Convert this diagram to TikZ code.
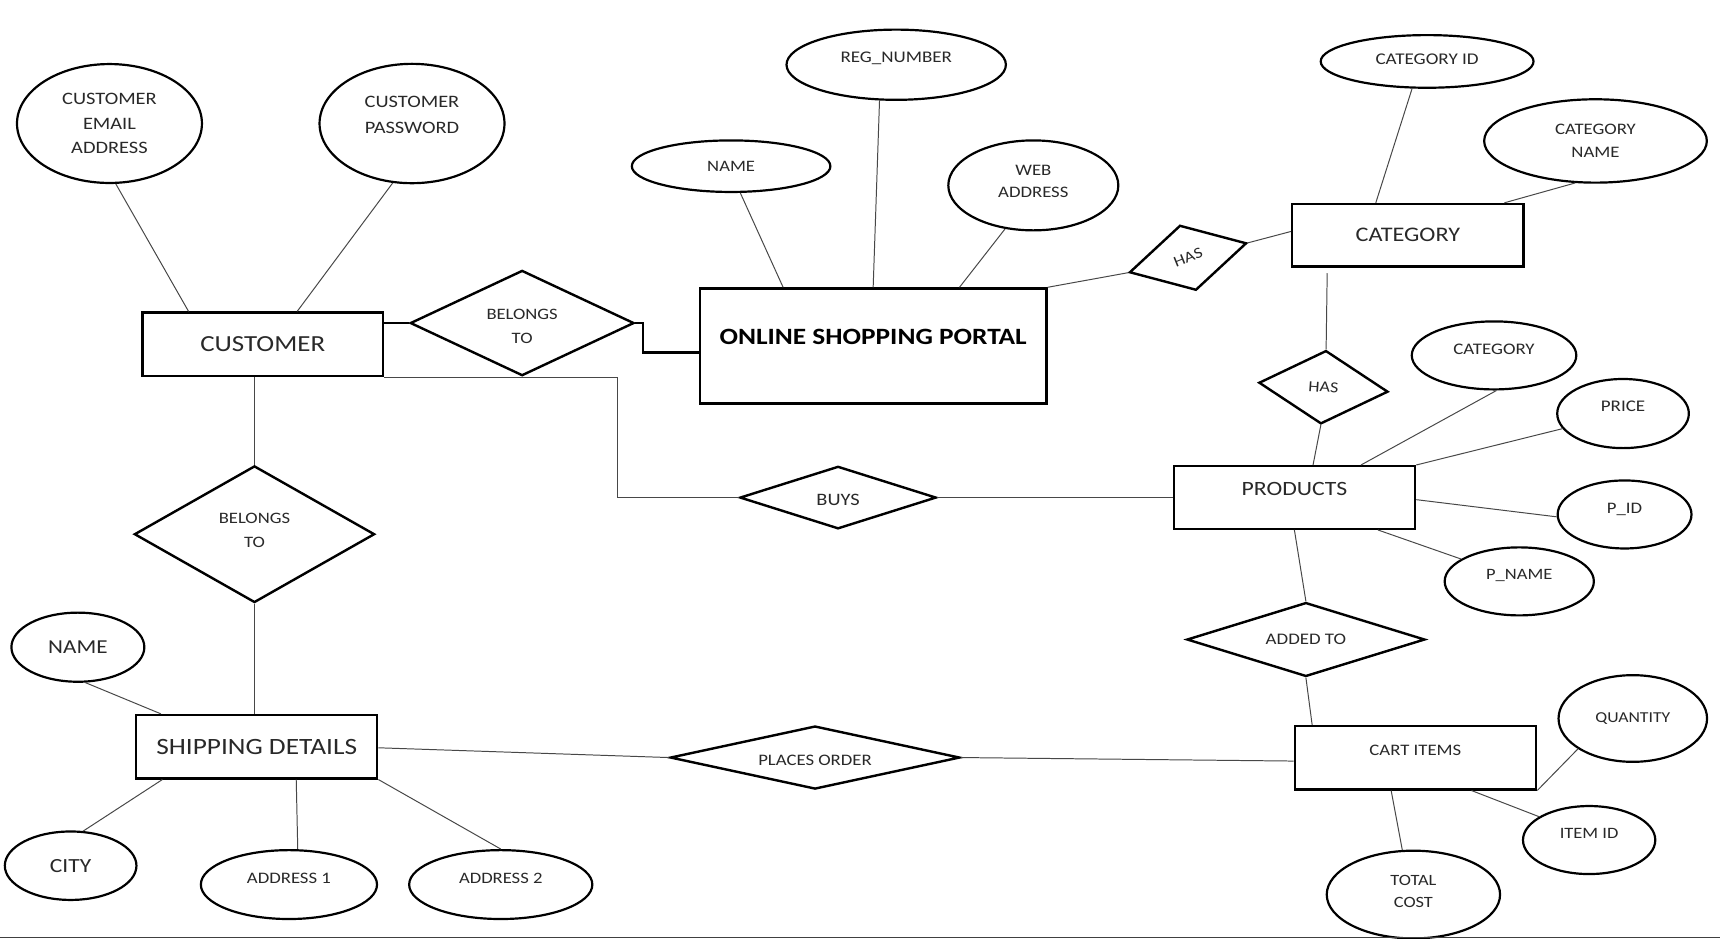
\documentclass[tikz,border=0pt]{standalone}
\usepackage{fontspec}
\setmainfont{Carlito}[FakeStretch=1.17]
\usetikzlibrary{shapes.geometric}
\begin{document}
\begin{tikzpicture}[x=1pt,y=-1pt,
  sz/.style 2 args={minimum width=#1pt,minimum height=#2pt},
  fs/.style 2 args={font=\fontsize{#1}{#2}\selectfont},
  lift/.style={text depth=#1pt},
  attr/.style={ellipse,draw=black,line width=2pt,inner sep=0pt,text=black!84,align=center},
  ent/.style={rectangle,draw=black,line width=2.2pt,inner sep=0pt,text=black!84,align=center},
  rel/.style={diamond,draw=black,line width=2.2pt,inner sep=0pt,text=black!84,align=center},
  conn/.style={draw=black!72,line width=0.9pt},
  thickconn/.style={draw=black,line width=2.2pt},
]
\useasboundingbox[fill=white] (0,0) rectangle (1568,856);

% ---------- entities ----------
\node[ent,sz={219}{58},fs={21}{24}] (customer) at (239.5,314) {CUSTOMER};
\node[ent,sz={316}{105},font=\bfseries\fontsize{21.3}{24}\selectfont,text=black,lift=17] (osp) at (796,315.5) {ONLINE SHOPPING PORTAL};
\node[ent,sz={211}{57},fs={18.9}{22}] (cat) at (1283.5,214.5) {CATEGORY};
\node[ent,sz={220}{57},fs={18.5}{22},lift=15] (products) at (1180,453.5) {PRODUCTS};
\node[ent,sz={220}{57.5},fs={14.6}{18},lift=13] (cart) at (1290.3,690.8) {CART ITEMS};
\node[ent,sz={219.7}{57.7},fs={21.3}{24}] (ship) at (234,680.7) {SHIPPING DETAILS};

% ---------- relationships ----------
\node[rel,sz={204}{96},aspect=2.125,fs={14.5}{21.3},text height=36.5pt] (bel1) at (476,294.5) {BELONGS\\TO};
\node[rel,sz={110}{61},aspect=1.8,rotate=14,fs={14}{16}] (has1) at (1083,235) {\rotatebox{8}{HAS}};
\node[rel,sz={118}{67},aspect=1.76,rotate=-4,fs={14}{16}] (has2) at (1206.5,353) {HAS};
\node[rel,sz={179}{57},aspect=3.14,fs={15.9}{18},text height=14.8pt] (buys) at (764,453.6) {BUYS};
\node[rel,sz={217}{67.4},aspect=3.2,fs={14.7}{18}] (added) at (1190.5,583) {ADDED TO};
\node[rel,sz={264}{57.5},aspect=4.6,fs={14.6}{18},text height=14pt] (places) at (743,690.6) {PLACES ORDER};
\node[rel,sz={219}{124.6},aspect=1.76,fs={14.5}{22.2},lift=7] (bel2) at (232,487) {BELONGS\\TO};

% ---------- attributes ----------
\node[attr,sz={168.6}{108.4},fs={15.9}{22.5}] (email) at (99.8,112.6) {CUSTOMER\\EMAIL\\ADDRESS};
\node[attr,sz={168.6}{108.8},fs={15.9}{23.7},lift=15] (pw) at (375.6,112.6) {CUSTOMER\\PASSWORD};
\node[attr,sz={181}{47},fs={14.5}{18}] (oname) at (666.5,151.5) {NAME};
\node[attr,sz={200}{64},fs={14.8}{18},lift=13] (reg) at (817,59) {REG\_NUMBER};
\node[attr,sz={155}{82},fs={14.6}{20},lift=7] (web) at (942,169) {WEB\\ADDRESS};
\node[attr,sz={194}{48},fs={14.9}{18},lift=4] (catid) at (1301,56) {CATEGORY ID};
\node[attr,sz={203}{76},fs={14.6}{20.4}] (catname) at (1454.5,128.5) {CATEGORY\\NAME};
\node[attr,sz={150}{62},fs={14.7}{18},lift=11] (pcat) at (1362,324) {CATEGORY};
\node[attr,sz={120}{63},fs={14.8}{18},lift=12.6] (price) at (1479.6,377) {PRICE};
\node[attr,sz={122}{62},fs={14.6}{18},lift=11] (pid) at (1481,469) {P\_ID};
\node[attr,sz={136}{62},fs={14.4}{18},lift=12] (pname) at (1385,530) {P\_NAME};
\node[attr,sz={135.4}{79},fs={13.8}{18}] (qty) at (1488.5,655) {QUANTITY};
\node[attr,sz={120.6}{62},fs={14.4}{18},lift=12] (itemid) at (1448.7,765.8) {ITEM ID};
\node[attr,sz={158}{80},fs={14.3}{20.2},lift=5] (total) at (1288.5,815.5) {TOTAL\\COST};
\node[attr,sz={121.2}{63},fs={18}{20}] (sname) at (71,590) {NAME};
\node[attr,sz={120}{62.4},fs={18.3}{20}] (city) at (64.4,789.2) {CITY};
\node[attr,sz={160.6}{62.8},fs={14.6}{18},lift=11.4] (addr1) at (263.4,806.4) {ADDRESS 1};
\node[attr,sz={167}{62.8},fs={14.5}{18},lift=11.4] (addr2) at (456.5,806.4) {ADDRESS 2};

% ---------- connectors ----------
% customer
\draw[conn] (email.-84.5) -- ([xshift=43pt]customer.north west);
\draw[conn] (pw.-108) -- ([xshift=142pt]customer.north west);
\draw[thickconn] (customer.east |- bel1.west) -- (bel1.west);
\draw[thickconn] (bel1.east) -- ++(7,0) |- ([yshift=-6pt]osp.west);
\draw[conn] (customer.south east) -| ([xshift=-110.3pt]buys.west) -- (buys.west);
\draw[conn] (bel2.north |- customer.south) -- (bel2.north);
\draw[conn] (bel2.south) -- (bel2.south |- ship.north);
\draw[conn] (buys.east) -- (buys.east -| products.west);
% portal
\draw[conn] (oname.-71.7) -- ([xshift=77pt]osp.north west);
\draw[conn] (reg.-115) -- (osp.north);
\draw[conn] (web.-123) -- ([xshift=237.8pt]osp.north west);
\draw[conn] (osp.north east) -- (has1.west);
\draw[conn] (has1.east) -- ([yshift=3.5pt]cat.west);
% category
\draw[conn] (catid.-119) -- ([xshift=77.3pt]cat.north west);
\draw[conn] (catname.-116) -- ([xshift=194.5pt]cat.north west);
\draw[conn] ([xshift=33pt,yshift=-5pt]cat.south west) -- (has2.north);
\draw[conn] (has2.south) -- ([xshift=17pt]products.north);
% products
\draw[conn] (pcat.-86) -- ([xshift=60.7pt]products.north);
\draw[conn] (price.-166) -- (products.north east);
\draw[conn] (pid.-178) -- ([yshift=-2pt]products.east);
\draw[conn] (pname.159.5) -- ([xshift=-35pt]products.south east);
\draw[conn] (products.south) -- (added.north);
\draw[conn] (added.south) -- ([xshift=17pt]cart.north west);
% cart
\draw[conn] (qty.-151) -- (cart.south east);
\draw[conn] (itemid.155) -- ([xshift=-60pt]cart.south east);
\draw[conn] (total.104) -- ([xshift=89pt]cart.south west);
\draw[conn] (places.east) -- ([yshift=-3pt]cart.west);
% shipping
\draw[conn] ([yshift=-1pt]ship.east) -- (places.west);
\draw[conn] (sname.-78.6) -- ([xshift=23.6pt]ship.north west);
\draw[conn] (city.70) -- ([xshift=25pt]ship.south west);
\draw[conn] (addr1.76) -- ([xshift=147pt]ship.south west);
\draw[conn] (addr2.north) -- (ship.south east);

% bottom rule
\draw[draw=black!75,line width=1.4pt] (0,854.6) -- (1568,854.6);
\end{tikzpicture}
\end{document}
